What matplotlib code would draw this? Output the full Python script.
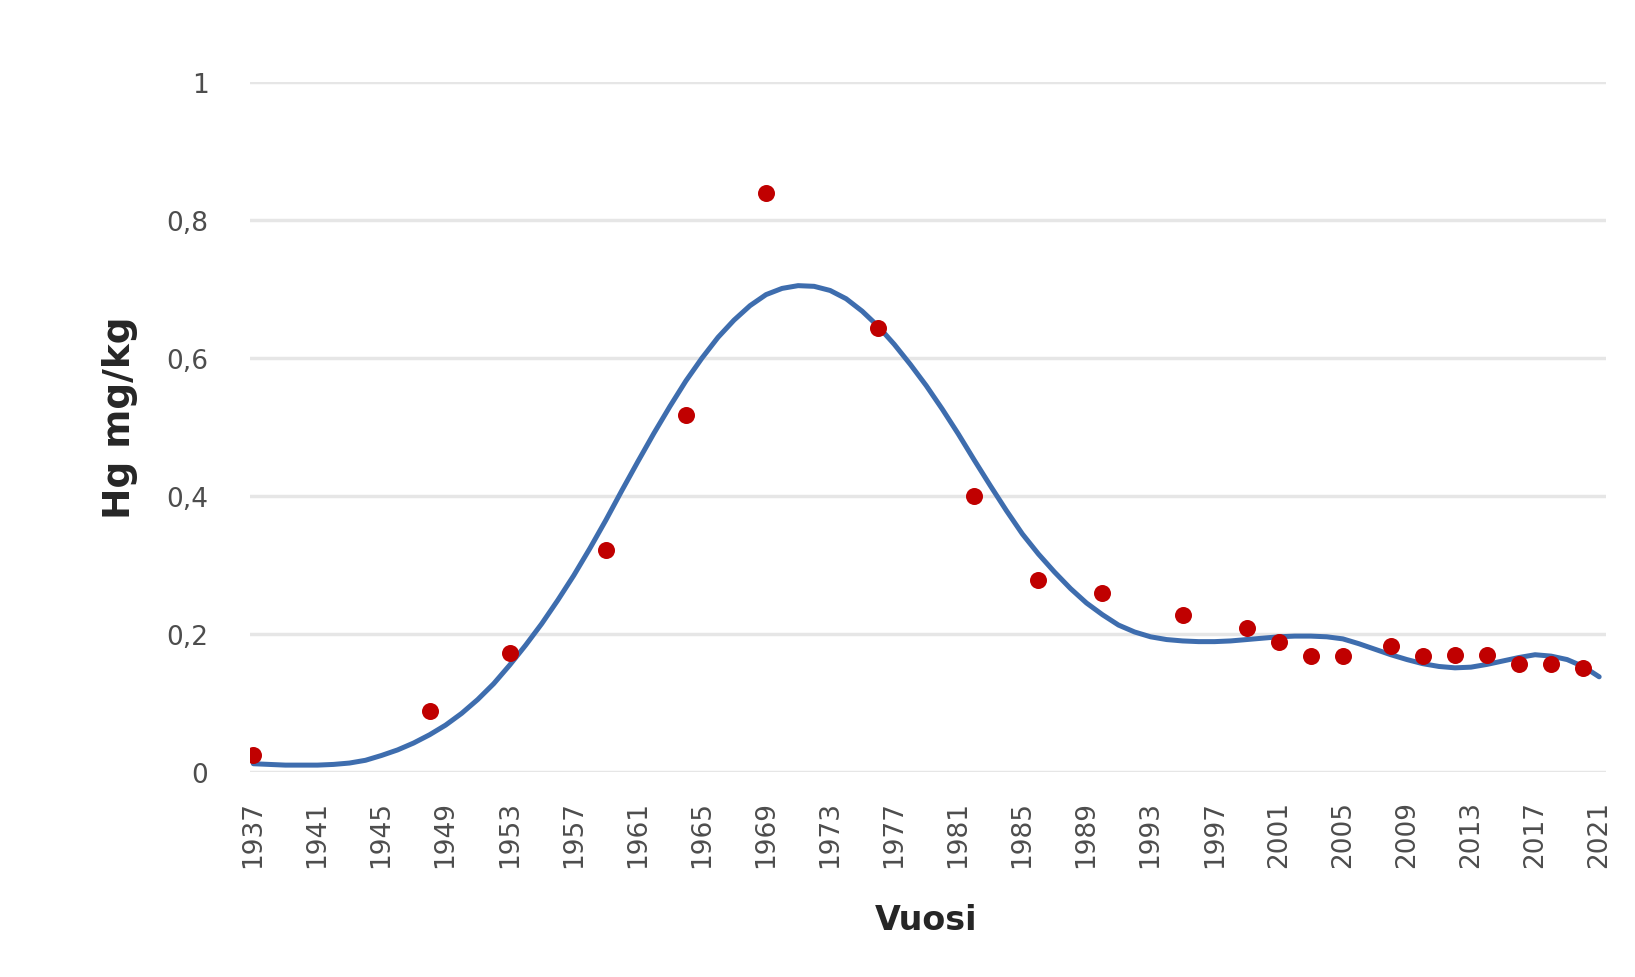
import matplotlib
matplotlib.use("Agg")
import matplotlib.pyplot as plt

# measured points (Hg mg/kg)
point_years = [1937, 1948, 1953, 1959, 1964, 1969, 1976, 1982, 1986, 1990, 1995,
               1999, 2001, 2003, 2005, 2008, 2010, 2012, 2014, 2016, 2018, 2020]
point_hg = [0.025, 0.088, 0.172, 0.322, 0.518, 0.840, 0.644, 0.400, 0.279, 0.259, 0.228,
            0.209, 0.189, 0.168, 0.168, 0.182, 0.168, 0.170, 0.170, 0.156, 0.156, 0.151]

trend_years = list(range(1937, 2022))
trend_hg = [0.012, 0.011, 0.010, 0.010, 0.010, 0.011, 0.013, 0.017, 0.024, 0.032,
            0.042, 0.054, 0.068, 0.085, 0.105, 0.128, 0.155, 0.184, 0.215, 0.249,
            0.285, 0.324, 0.365, 0.408, 0.450, 0.491, 0.530, 0.567, 0.600, 0.630,
            0.655, 0.676, 0.692, 0.701, 0.705, 0.704, 0.698, 0.686, 0.668, 0.646,
            0.620, 0.591, 0.560, 0.526, 0.490, 0.452, 0.415, 0.379, 0.345, 0.316,
            0.290, 0.266, 0.245, 0.228, 0.213, 0.203, 0.196, 0.192, 0.190, 0.189,
            0.189, 0.190, 0.192, 0.194, 0.196, 0.197, 0.197, 0.196, 0.193, 0.186,
            0.178, 0.170, 0.163, 0.157, 0.153, 0.151, 0.152, 0.156, 0.161, 0.166,
            0.170, 0.168, 0.163, 0.153, 0.138]

xtick_years = list(range(1937, 2022, 4))
ytick_vals = [0, 0.2, 0.4, 0.6, 0.8, 1]
ytick_labels = ["0", "0,2", "0,4", "0,6", "0,8", "1"]

fig = plt.figure(figsize=(16.35, 9.78), dpi=100)
ax = fig.add_axes([0.153, 0.2096, 0.829, 0.7054])

for v in ytick_vals:
    ax.axhline(v, color="#E6E6E6", linewidth=2.5, zorder=0)

ax.plot(trend_years, trend_hg, color="#3E6DAE", linewidth=3.6, zorder=2,
        solid_capstyle="round", solid_joinstyle="round")
ax.scatter(point_years, point_hg, s=150, color="#C00000", zorder=3, linewidths=0)

ax.set_xlim(1936.8, 2021.4)
ax.set_ylim(0, 1)
ax.set_xticks(xtick_years)
ax.set_xticklabels([str(y) for y in xtick_years], rotation=90, fontsize=19,
                   color="#4D4D4D")
ax.set_yticks(ytick_vals)
ax.set_yticklabels(ytick_labels, fontsize=19, color="#4D4D4D")
ax.tick_params(axis="both", length=0)
ax.tick_params(axis="y", pad=30)
ax.tick_params(axis="x", pad=20)
for spine in ax.spines.values():
    spine.set_visible(False)

ax.set_xlabel("Vuosi", fontsize=24, fontweight="bold", color="#262626")
ax.xaxis.set_label_coords(0.4985, -0.19)
ax.set_ylabel("Hg mg/kg", fontsize=27, fontweight="bold", color="#262626")
ax.yaxis.set_label_coords(-0.083, 0.515)

fig.savefig("out.png", dpi=100, facecolor="white")
